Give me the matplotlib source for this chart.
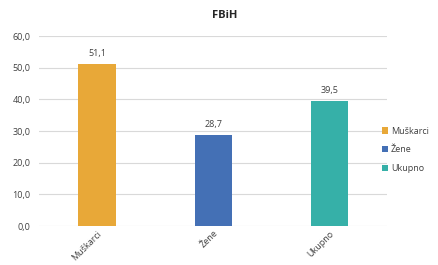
import matplotlib
matplotlib.use('Agg')
import matplotlib.pyplot as plt
from matplotlib.patches import Patch

categories = ['Muškarci', 'Žene', 'Ukupno']
values = [51.1, 28.7, 39.5]
colors = ['#E8A838', '#4470B5', '#36B0A8']
yticks = [0, 10, 20, 30, 40, 50, 60]

plt.rcParams['font.family'] = ['Open Sans', 'DejaVu Sans']

fig = plt.figure(figsize=(4.38, 2.65), dpi=100)
ax = fig.add_axes([0.089, 0.147, 0.795, 0.717])

x = list(range(len(categories)))
bars = ax.bar(x, values, width=0.32, color=colors, zorder=3)
for xi, v in zip(x, values):
    ax.text(xi, v + 2.0, f'{v:.1f}'.replace('.', ','), ha='center', va='bottom',
            fontsize=6.5, color='#404040')

ax.set_xlim(-0.5, 2.5)
ax.set_ylim(0, 60)
ax.set_yticks(yticks)
ax.set_yticklabels([f'{t:.1f}'.replace('.', ',') for t in yticks], fontsize=6.5, color='#404040')
ax.set_xticks(x)
ax.set_xticklabels(categories, rotation=45, ha='right', rotation_mode='anchor',
                   fontsize=6.5, color='#404040')
ax.tick_params(axis='y', length=0, pad=6)
ax.tick_params(axis='x', length=0, pad=2)
ax.grid(axis='y', color='#d9d9d9', linewidth=0.8, zorder=0)
for s in ax.spines.values():
    s.set_visible(False)

fig.text(225 / 438, 1 - 16 / 265, 'FBiH', fontsize=8, fontweight='bold', color='#262626',
         ha='center', va='center')

handles = [Patch(facecolor=c, label=l) for c, l in zip(colors, categories)]
fig.legend(handles=handles, loc='center left', bbox_to_anchor=(0.872, 0.434),
           frameon=False, fontsize=6.5, handlelength=0.7, handleheight=0.7,
           handletextpad=0.3, labelspacing=1.1, labelcolor='#404040',
           borderaxespad=0, borderpad=0)

fig.savefig('out.png', dpi=100)
